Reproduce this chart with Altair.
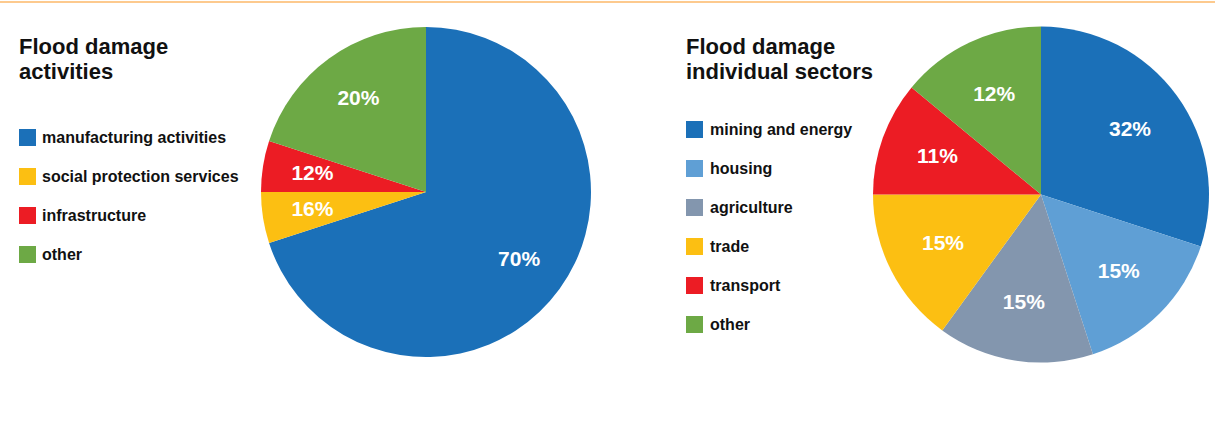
import altair as alt
import pandas as pd

# ---- data ----
left_title = ["Flood damage", "activities"]
left_categories = ["manufacturing activities", "social protection services", "infrastructure", "other"]
left_shares = [70, 5, 5, 20]          # slice sizes as drawn
left_labels = ["70%", "16%", "12%", "20%"]  # printed labels
left_colors = ["#1b70b8", "#fcbf12", "#ec1c24", "#6da945"]

right_title = ["Flood damage", "individual sectors"]
right_categories = ["mining and energy", "housing", "agriculture", "trade", "transport", "other"]
right_shares = [30, 15, 15, 15, 11, 14]
right_labels = ["32%", "15%", "15%", "15%", "11%", "12%"]
right_colors = ["#1b70b8", "#5f9fd5", "#8396ae", "#fcbf12", "#ec1c24", "#6da945"]

FONT = "Liberation Sans"


def pie(cats, shares, labels, colors, title, cx, cy, r, label_r, legend_x, legend_y, title_pad, label_offset, prefix):
    df = pd.DataFrame({
        f"{prefix}_cat": cats,
        f"{prefix}_share": shares,
        f"{prefix}_label": labels,
        f"{prefix}_idx": list(range(len(cats))),
    })
    base = alt.Chart(df).encode(
        theta=alt.Theta(f"{prefix}_share:Q", stack=True),
        order=alt.Order(f"{prefix}_idx:Q", sort="ascending"),
    )
    arc = base.mark_arc(outerRadius=r, strokeWidth=0).encode(
        x=alt.value(cx),
        y=alt.value(cy),
        color=alt.Color(
            f"{prefix}_cat:N",
            scale=alt.Scale(domain=cats, range=colors),
            legend=alt.Legend(
                orient="none", legendX=legend_x, legendY=legend_y, direction="vertical",
                title=title, titleFont=FONT, titleFontSize=22, titleFontWeight="bold",
                titleColor="#111111", titleLineHeight=25, titleBaseline="top",
                titleAnchor="start", titlePadding=title_pad, titleLimit=400,
                labelFont=FONT, labelFontSize=16, labelFontWeight="bold",
                labelColor="#111111", labelLimit=400, labelOffset=label_offset,
                symbolType="square", symbolSize=289, symbolStrokeWidth=0,
                symbolOpacity=1, rowPadding=22, padding=0,
            ),
        ),
    )
    text = base.mark_text(
        radius=label_r, font=FONT, fontSize=21, fontWeight="bold", color="white",
        align="center", baseline="middle",
    ).encode(
        x=alt.value(cx),
        y=alt.value(cy),
        detail=f"{prefix}_cat:N",
        text=f"{prefix}_label:N",
    )
    return arc, text


l_arc, l_text = pie(left_categories, left_shares, left_labels, left_colors, left_title,
                    426, 192, 165, 115, 19, 37, 45, 6, "l")
r_arc, r_text = pie(right_categories, right_shares, right_labels, right_colors, right_title,
                    1041, 194.5, 168, 110, 686, 37, 37, 7, "r")

rule = alt.Chart(pd.DataFrame({"a": [0]})).mark_rule(color="#fdca8e", strokeWidth=2).encode(
    x=alt.value(0), x2=alt.value(1215), y=alt.value(2)
)

chart = alt.layer(rule, l_arc, l_text, r_arc, r_text).resolve_scale(
    color="independent", theta="independent"
).properties(
    width=1215, height=421, padding=0, autosize="none", background="white"
).configure_view(stroke=None)

chart.save("out.html", embed_options={"renderer": "svg", "actions": False})
